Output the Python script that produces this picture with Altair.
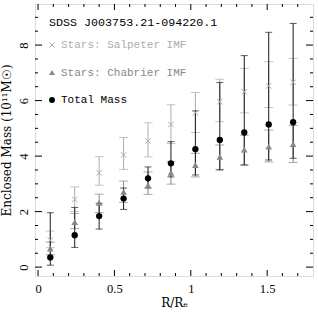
import altair as alt
import pandas as pd

# ---- data ----
radius = [0.08, 0.24, 0.40, 0.56, 0.72, 0.87, 1.03, 1.19, 1.35, 1.51, 1.67]

salp_y  = [0.97, 2.44, 3.40, 4.04, 4.54, 5.14, 5.56, 5.96, 6.32, 6.53, 6.66]
salp_lo = [0.70, 2.00, 2.95, 3.52, 3.97, 4.45, 4.85, 5.24, 5.56, 5.75, 5.84]
salp_hi = [1.30, 2.89, 3.98, 4.67, 5.20, 5.85, 6.29, 6.77, 7.16, 7.40, 7.52]

chab_y  = [0.67, 1.62, 2.32, 2.71, 2.95, 3.40, 3.68, 3.97, 4.23, 4.34, 4.43]
chab_lo = [0.45, 1.39, 1.97, 2.33, 2.62, 2.99, 3.25, 3.52, 3.68, 3.79, 3.77]
chab_hi = [0.90, 1.93, 2.63, 3.10, 3.43, 3.80, 4.10, 4.40, 4.75, 4.94, 5.10]

tot_y  = [0.35, 1.15, 1.84, 2.47, 3.20, 3.74, 4.25, 4.58, 4.85, 5.14, 5.22]
tot_lo = [0.07, 0.71, 1.37, 2.08, 2.85, 3.25, 3.32, 3.50, 3.68, 3.86, 3.92]
tot_hi = [1.96, 2.15, 2.30, 2.85, 3.61, 4.52, 5.63, 6.65, 7.62, 8.46, 8.78]

x_major = [0, 0.5, 1.0, 1.5]
x_minor = [0.1, 0.2, 0.3, 0.4, 0.6, 0.7, 0.8, 0.9, 1.1, 1.2, 1.3, 1.4, 1.6, 1.7]
y_major = [0, 2, 4, 6, 8]
y_minor = [0.5, 1, 1.5, 2.5, 3, 3.5, 4.5, 5, 5.5, 6.5, 7, 7.5, 8.5, 9]

title_text = "SDSS J003753.21-094220.1"
legend_labels = ["Stars: Salpeter IMF", "Stars: Chabrier IMF", "Total Mass"]

W, H = 278, 272
XDOM = [-0.02, 1.80]
YDOM = [-0.32, 9.48]
SERIF = "Liberation Serif"
TSERIF = "DejaVu Serif"
MONO = "Liberation Mono"
C_SALP = "#adadad"
C_CHAB = "#888888"
C_TOT = "#000000"
XPATH = "M-1,-1L1,1M-1,1L1,-1"

def frame(y, lo, hi):
    return pd.DataFrame({"r": radius, "y": y, "lo": lo, "hi": hi})

salp = frame(salp_y, salp_lo, salp_hi)
chab = frame(chab_y, chab_lo, chab_hi)
tot = frame(tot_y, tot_lo, tot_hi)

xs = alt.Scale(domain=XDOM, nice=False, zero=False)
ys = alt.Scale(domain=YDOM, nice=False, zero=False)

def errs(df, color, cap):
    base = alt.Chart(df)
    bar = base.mark_rule(color=color, strokeWidth=1).encode(
        x=alt.X("r:Q", scale=xs), y=alt.Y("lo:Q", scale=ys), y2="hi:Q")
    c1 = base.mark_tick(color=color, orient="horizontal", size=cap, thickness=1).encode(
        x=alt.X("r:Q", scale=xs), y=alt.Y("lo:Q", scale=ys))
    c2 = base.mark_tick(color=color, orient="horizontal", size=cap, thickness=1).encode(
        x=alt.X("r:Q", scale=xs), y=alt.Y("hi:Q", scale=ys))
    return [bar, c1, c2]

axis_layer = alt.Chart(salp).mark_point(opacity=0).encode(
    x=alt.X("r:Q", scale=xs, title="R/Rₑ",
            axis=alt.Axis(values=x_major, ticks=False, domain=False, grid=False,
                          labelFont=SERIF, labelFontSize=12.5, labelColor="black",
                          labelPadding=6, titleFont=TSERIF, titleFontSize=12,
                          titleFontWeight="normal", titleColor="black", titlePadding=3,
                          labelExpr="datum.value == 0 ? '0' : datum.value == 1 ? '1' : format(datum.value, '.1f')")),
    y=alt.Y("y:Q", scale=ys, title="Enclosed Mass (10¹¹M☉)",
            axis=alt.Axis(values=y_major, ticks=False, domain=False, grid=False,
                          labelFont=SERIF, labelFontSize=12.5, labelColor="black",
                          labelAngle=270, labelAlign="center", labelBaseline="bottom",
                          labelPadding=5, titleFont=TSERIF, titleFontSize=12,
                          titleFontWeight="normal", titleColor="black", titlePadding=4)),
)

layers = [axis_layer]
layers += errs(salp, C_SALP, 9)
layers += errs(chab, C_CHAB, 9)
layers += errs(tot, "#1a1a1a", 7)

layers.append(alt.Chart(salp).mark_point(shape=XPATH, filled=False, size=30, strokeWidth=1,
                                         color=C_SALP, opacity=1).encode(
    x=alt.X("r:Q", scale=xs), y=alt.Y("y:Q", scale=ys)))
layers.append(alt.Chart(chab).mark_point(shape="triangle-up", filled=True, size=45,
                                         color=C_CHAB, opacity=1).encode(
    x=alt.X("r:Q", scale=xs), y=alt.Y("y:Q", scale=ys)))
layers.append(alt.Chart(tot).mark_point(shape="circle", filled=True, size=40,
                                        color=C_TOT, opacity=1).encode(
    x=alt.X("r:Q", scale=xs), y=alt.Y("y:Q", scale=ys)))

def xt(vals, ln):
    d = pd.DataFrame({"t": vals})
    b = alt.Chart(d).mark_rule(color="black", strokeWidth=1).encode(
        x=alt.X("t:Q", scale=xs), y=alt.value(H), y2=alt.value(H - ln))
    t = alt.Chart(d).mark_rule(color="black", strokeWidth=1).encode(
        x=alt.X("t:Q", scale=xs), y=alt.value(0), y2=alt.value(ln))
    return [b, t]

def yt(vals, ln):
    d = pd.DataFrame({"t": vals})
    l = alt.Chart(d).mark_rule(color="black", strokeWidth=1).encode(
        y=alt.Y("t:Q", scale=ys), x=alt.value(0), x2=alt.value(ln))
    r = alt.Chart(d).mark_rule(color="black", strokeWidth=1).encode(
        y=alt.Y("t:Q", scale=ys), x=alt.value(W), x2=alt.value(W - ln))
    return [l, r]

layers += xt(x_major, 6) + xt(x_minor, 3) + yt(y_major, 7) + yt(y_minor, 3)

layers.append(alt.Chart(pd.DataFrame({"t": [title_text]})).mark_text(
    font=MONO, fontSize=11.7, align="left", baseline="middle", color="black").encode(
    text="t:N", x=alt.value(14), y=alt.value(18)))
shapes = [XPATH, "triangle-up", "circle"]
colors = [C_SALP, C_CHAB, C_TOT]
for i, (lab, col, shp) in enumerate(zip(legend_labels, colors, shapes)):
    yy = 41 + 27.5 * i
    layers.append(alt.Chart(pd.DataFrame({"t": [lab]})).mark_text(
        font=MONO, fontSize=11, align="left", baseline="middle", color=col).encode(
        text="t:N", x=alt.value(26), y=alt.value(yy)))
    layers.append(alt.Chart(pd.DataFrame({"t": [lab]})).mark_point(
        shape=shp, filled=(shp != XPATH), size=28 if shp == XPATH else 35,
        strokeWidth=1, color=col, opacity=1).encode(
        x=alt.value(17), y=alt.value(yy)))

chart = alt.layer(*layers).properties(
    width=W, height=H,
    autosize=alt.AutoSizeParams(type="none"),
    padding={"left": 35, "top": 4, "right": 5, "bottom": 40},
).configure_view(stroke="black", strokeWidth=1.2).configure(background="white")

chart.save("out.html", embed_options={"renderer": "svg", "actions": False})
